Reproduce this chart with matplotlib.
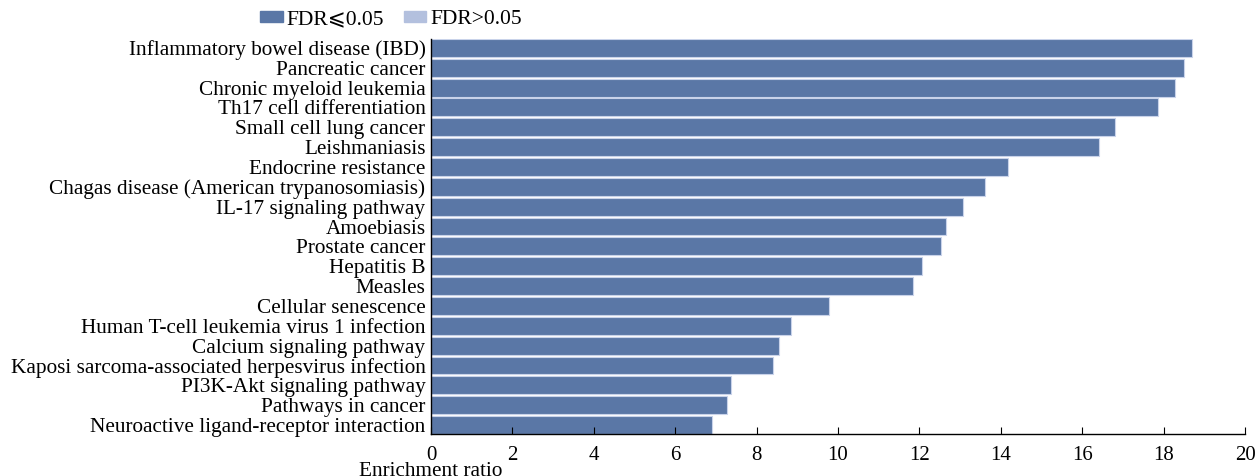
import matplotlib
matplotlib.use('Agg')
import matplotlib.pyplot as plt
from matplotlib.patches import Patch

plt.rcParams['font.family'] = ['Liberation Serif', 'DejaVu Serif', 'DejaVu Sans']

pathways = [
    'Inflammatory bowel disease (IBD)',
    'Pancreatic cancer',
    'Chronic myeloid leukemia',
    'Th17 cell differentiation',
    'Small cell lung cancer',
    'Leishmaniasis',
    'Endocrine resistance',
    'Chagas disease (American trypanosomiasis)',
    'IL-17 signaling pathway',
    'Amoebiasis',
    'Prostate cancer',
    'Hepatitis B',
    'Measles',
    'Cellular senescence',
    'Human T-cell leukemia virus 1 infection',
    'Calcium signaling pathway',
    'Kaposi sarcoma-associated herpesvirus infection',
    'PI3K-Akt signaling pathway',
    'Pathways in cancer',
    'Neuroactive ligand-receptor interaction',
]
enrichment = [18.69, 18.51, 18.27, 17.85, 16.80, 16.42, 14.18, 13.62, 13.07, 12.66,
              12.53, 12.06, 11.83, 9.77, 8.85, 8.54, 8.41, 7.36, 7.27, 6.90]
xticks = [0, 2, 4, 6, 8, 10, 12, 14, 16, 18, 20]

sig_color = '#5a77a6'
nonsig_color = '#b3c0de'

fig = plt.figure(figsize=(12.57, 4.76), dpi=100)
ax = fig.add_axes([0.3429, 0.0882, 0.6476, 0.830])

ypos = list(range(len(pathways)))
ax.barh(ypos, enrichment, height=0.9, color=sig_color, edgecolor='#c9d3ea', linewidth=0.8)

ax.set_ylim(len(pathways) - 0.55, -0.45)
ax.set_xlim(0, 20)
ax.set_xticks(xticks)
ax.set_yticks(ypos)
ax.set_yticklabels(pathways, fontsize=15.3)
ax.tick_params(axis='y', length=0, pad=4)
ax.tick_params(axis='x', direction='in', length=5, labelsize=15, pad=8.5)
ax.spines['top'].set_visible(False)
ax.spines['right'].set_visible(False)
ax.spines['left'].set_linewidth(1.0)
ax.spines['bottom'].set_linewidth(1.0)

ax.set_xlabel('Enrichment ratio', fontsize=15.3)
ax.xaxis.set_label_coords(0.0, -0.072)

handles = [Patch(color=sig_color, label='FDR\u2a7d0.05'),
           Patch(color=nonsig_color, label='FDR>0.05')]
fig.legend(handles=handles, loc='center left', bbox_to_anchor=(0.2068, 0.958), ncol=2,
           frameon=False, fontsize=15.5, handlelength=1.05, handleheight=0.42,
           handletextpad=0.2, columnspacing=0.9, borderpad=0, borderaxespad=0)

fig.savefig('out.png', dpi=100)
